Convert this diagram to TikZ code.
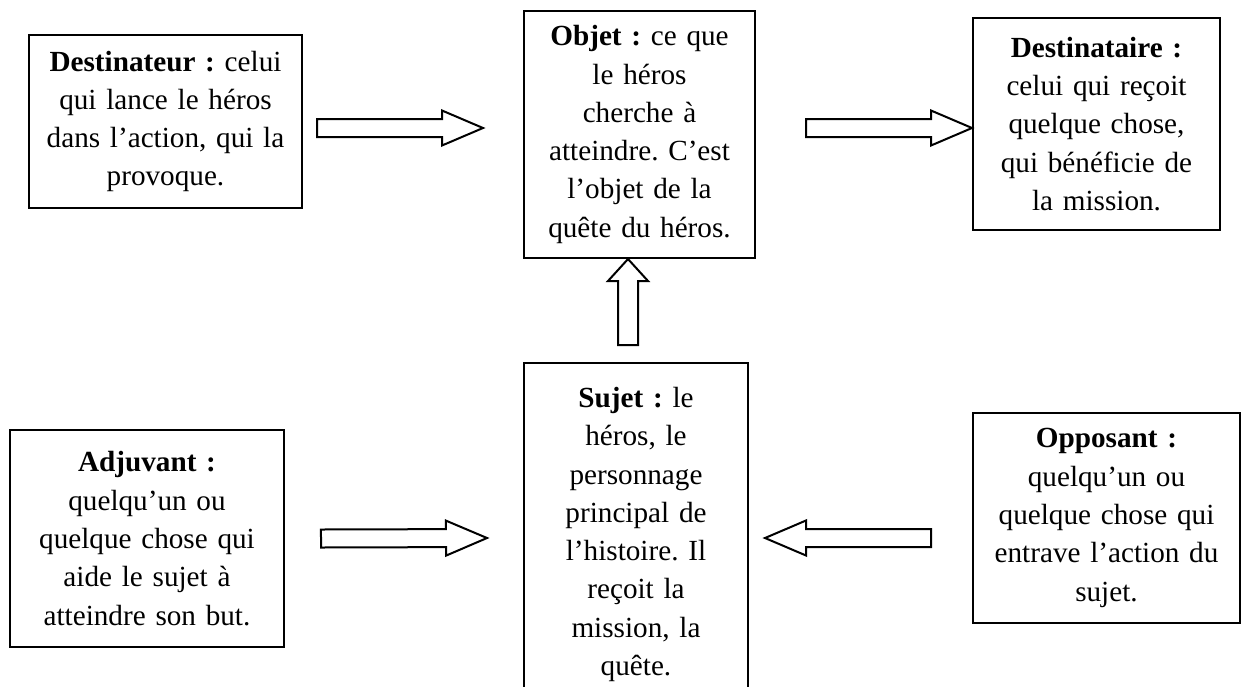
\documentclass[tikz,border=0pt]{standalone}
\usepackage{fontspec}
\setmainfont{Liberation Serif}
\usepackage{tikz}
\usetikzlibrary{calc}
\frenchspacing

\tikzset{
  ba shaft/.store in=\bashaft, ba head/.store in=\bahead, ba len/.store in=\balen,
  ba shaft=9pt, ba head=17.5pt, ba len=41pt,
  blockarrow/.style={draw, fill=white, line width=2pt, line join=miter,
    to path={
      ($(\tikztotarget)!\balen!(\tikztostart)$) coordinate (ba-h)
      ($(\tikztostart)!\bashaft!90:(\tikztotarget)$)
      -- ($(ba-h)!\bashaft!-90:(\tikztostart)$)
      -- ($(ba-h)!\bahead!-90:(\tikztostart)$)
      -- (\tikztotarget)
      -- ($(ba-h)!\bahead!90:(\tikztostart)$)
      -- ($(ba-h)!\bashaft!90:(\tikztostart)$)
      -- ($(\tikztostart)!\bashaft!-90:(\tikztotarget)$)
      -- cycle}}
}

\begin{document}
\begin{tikzpicture}[x=1pt, y=-1pt,
    role/.style={draw, line width=2pt, inner sep=0pt, align=center, anchor=north west,
      font=\fontsize{29.2}{38.3}\selectfont}]
            \path[use as bounding box, fill=white] (0, 0) rectangle (1241, 686);
            \clip (0, 0) rectangle (1241, 686);
            \node[role, text width=273pt, minimum height=173pt] at (28, 34) (destinateur) {\textbf{Destinateur :} celui\\qui lance le héros\\dans l’action, qui la\\provoque.};
            \node[role, text width=231pt, minimum height=247pt] at (523, 10) (objet) {\textbf{Objet :} ce que\\le héros\\cherche à\\atteindre. C’est\\l’objet de la\\quête du héros.};
            \node[role, text width=247pt, minimum height=212pt] at (972, 17) (destinataire) {\textbf{Destinataire :}\\celui qui reçoit\\quelque chose,\\qui bénéficie de\\la mission.};
            \node[role, text width=274pt, minimum height=217pt] at (9, 429) (adjuvant) {\textbf{Adjuvant :}\\quelqu’un ou\\quelque chose qui\\aide le sujet à\\atteindre son but.};
            \node[role, text width=224pt, minimum height=343pt] at (523, 362) (sujet) {\textbf{Sujet :} le\\héros, le\\personnage\\principal de\\l’histoire. Il\\reçoit la\\mission, la\\quête.};
            \node[role, text width=267pt, minimum height=210pt] at (972, 412) (opposant) {\textbf{Opposant :}\\quelqu’un ou\\quelque chose qui\\entrave l’action du\\sujet.};
            \draw ([xshift=14pt, yshift=-6.5pt]destinateur.east) edge[blockarrow] ([xshift=-40pt, yshift=6.5pt]objet.west);
            \draw ([xshift=50pt, yshift=6.5pt]objet.east) edge[blockarrow] ([yshift=-4pt]destinataire.west);
            \draw ([xshift=-8pt, yshift=17pt]sujet.north) edge[blockarrow, ba shaft=10pt, ba head=20pt, ba len=22pt] ([xshift=-11.5pt]objet.south);
            \draw ([xshift=36pt]adjuvant.east) edge[blockarrow] ([xshift=-36pt, yshift=-3.5pt]sujet.west);
            \draw ([xshift=-41pt, yshift=-20pt]opposant.west) edge[blockarrow] ([xshift=16pt, yshift=-3.5pt]sujet.east);
    \end{tikzpicture}
\end{document}
